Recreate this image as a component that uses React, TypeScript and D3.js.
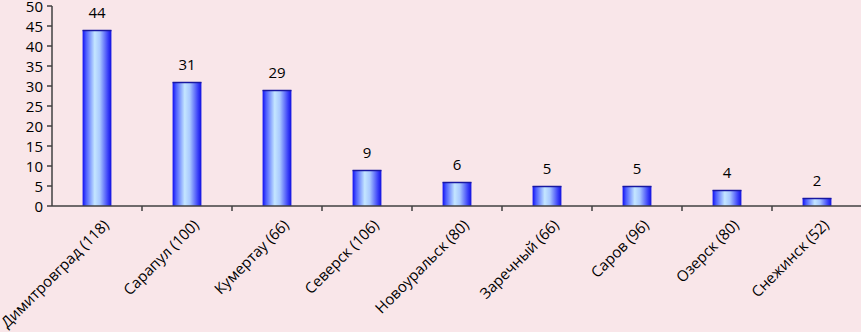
import React from "react";
import * as d3 from "d3";

const categories = [
  "Димитровград (118)",
  "Сарапул (100)",
  "Кумертау (66)",
  "Северск (106)",
  "Новоуральск (80)",
  "Заречный (66)",
  "Саров (96)",
  "Озерск (80)",
  "Снежинск (52)",
];
const values = [44, 31, 29, 9, 6, 5, 5, 4, 2];
const yTicks = [0, 5, 10, 15, 20, 25, 30, 35, 40, 45, 50];

const W = 861;
const H = 332;
const left = 52;
const top = 6;
const bottom = 206;
const font = "Open Sans, Liberation Sans, sans-serif";

export default function App() {
  const x = d3.scaleBand<string>().domain(categories).range([left, left + 9 * 90]).paddingInner(0.68).paddingOuter(0.34);
  const band = d3.scaleBand<string>().domain(categories).range([left, left + 9 * 90]);
  const y = d3.scaleLinear().domain([0, 50]).range([bottom, top]);
  const axisColor = "#404040";

  return (
    <svg width={W} height={H} style={{ position: "absolute", left: 0, top: 0, display: "block" }}>
      <defs>
        <linearGradient id="barGrad" x1="0" x2="1" y1="0" y2="0">
          <stop offset="0" stopColor="#1010f0" />
          <stop offset="0.12" stopColor="#4a5cff" />
          <stop offset="0.42" stopColor="#c4e6ff" />
          <stop offset="0.6" stopColor="#a8c8ff" />
          <stop offset="0.88" stopColor="#3a40f8" />
          <stop offset="1" stopColor="#1010e0" />
        </linearGradient>
      </defs>
      <rect x={0} y={0} width={W} height={H} fill="#f9e6e9" />
      {categories.map((c, i) => (
        <g key={c}>
          <rect x={x(c)} y={y(values[i])} width={x.bandwidth()} height={bottom - y(values[i])} fill="url(#barGrad)" />
          <line x1={x(c)} x2={(x(c) as number) + x.bandwidth()} y1={y(values[i]) + 0.5} y2={y(values[i]) + 0.5} stroke="#1818a0" strokeWidth={1.5} />
          <text
            x={(x(c) as number) + x.bandwidth() / 2}
            y={y(values[i]) - 12}
            textAnchor="middle"
            fontFamily={font}
            fontSize={15}
            fill="#000"
          >
            {values[i]}
          </text>
        </g>
      ))}
      {/* y axis */}
      <line x1={left} x2={left} y1={top} y2={bottom} stroke={axisColor} strokeWidth={1.5} />
      {yTicks.map((t) => (
        <g key={t}>
          <line x1={left - 5} x2={left} y1={y(t)} y2={y(t)} stroke={axisColor} strokeWidth={1.5} />
          <text x={left - 9} y={y(t) + 5.5} textAnchor="end" fontFamily={font} fontSize={15} fill="#000">
            {t}
          </text>
        </g>
      ))}
      {/* x axis */}
      <line x1={left} x2={W} y1={bottom} y2={bottom} stroke={axisColor} strokeWidth={1.5} />
      {categories.map((c) => (
        <line key={c} x1={(band(c) as number) + 90} x2={(band(c) as number) + 90} y1={bottom} y2={bottom + 5} stroke={axisColor} strokeWidth={1.5} />
      ))}
      {categories.map((c) => {
        const cx = (band(c) as number) + band.bandwidth() / 2 + 13;
        const cy = bottom + 20;
        return (
          <text
            key={c}
            transform={`translate(${cx},${cy}) rotate(-45)`}
            textAnchor="end"
            fontFamily={font}
            fontSize={15}
            fill="#000"
          >
            {c}
          </text>
        );
      })}
    </svg>
  );
}
